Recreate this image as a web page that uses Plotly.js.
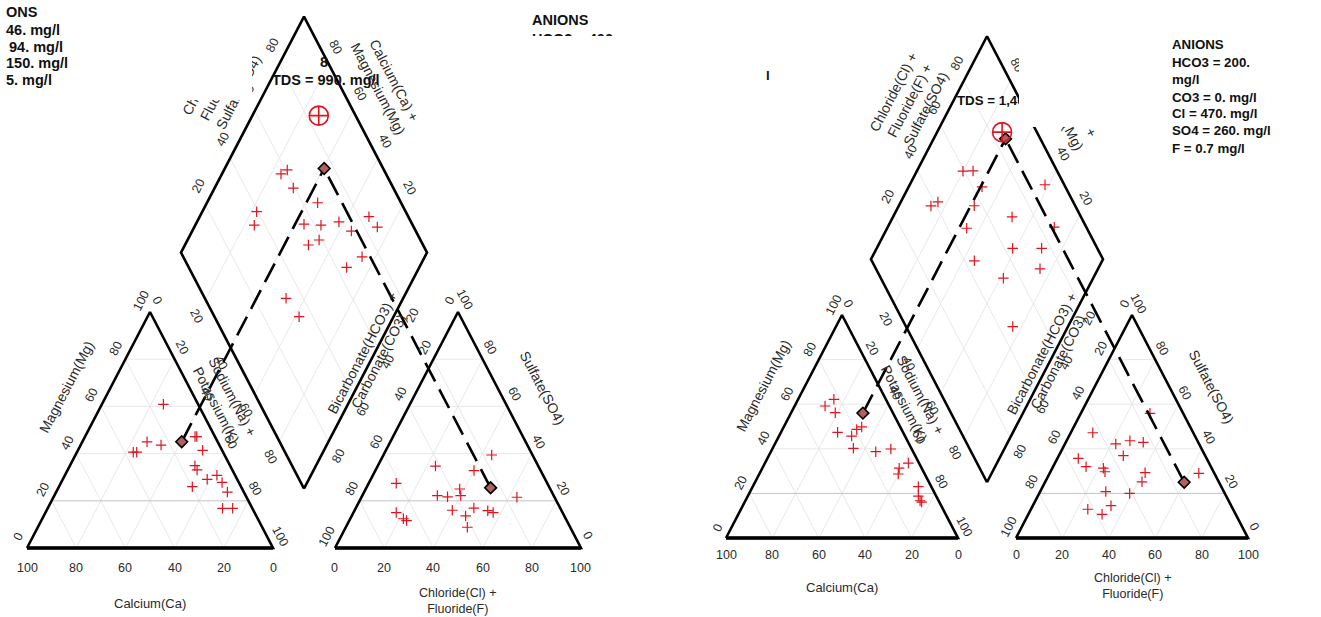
<!DOCTYPE html>
<html><head><meta charset="utf-8">
<script src="https://cdn.plot.ly/plotly-3.0.1.min.js"></script>
<style>html,body{margin:0;padding:0;background:#fff}#chart{width:1321px;height:617px}</style>
</head><body><div id="chart"></div>
<script>
// ================= DATA (percent of meq) =================
// Left diagram
const L_cat_Ca  = [14.1,28.7,23.7,36.5,35.1,8.1,7.4,7.9,14.3,14.3,12.2,7.4,6.8,19.8,6.7,12.1,8.0];
const L_cat_Mg  = [60.9,45.0,43.6,40.6,40.6,47.2,47.2,41.4,34.9,33.1,29.1,30.8,27.8,26.0,23.7,16.8,16.8];
const L_an_Cl   = [44.0,23.5,40.1,11.2,30.5,34.9,38.2,40.0,63.2,39.7,48.0,54.2,56.8,46.3,49.4,17.4,21.6,23.3];
const L_an_SO4  = [39.4,34.7,32.8,27.4,22.2,21.7,25.0,22.2,21.5,16.0,16.9,15.8,15.0,13.6,8.8,15.0,12.4,11.6];
const L_dia_ClSO4 = [57.3,60.7,59.3,39.4,35.6,66.1,56.0,62.7,70.7,73.8,84.0,85.2,53.4,58.8,72.7,64.2,33.0,34.4];
const L_dia_CaMg  = [76.0,74.3,68.0,77.9,76.0,55.0,56.0,48.9,42.3,35.3,31.2,25.6,49.8,46.5,25.5,29.5,47.6,38.4];
const L_mean_CaMg_NaK = [14.6,45.0];   // mean Ca, Mg
const L_mean_Cl_SO4   = [50.5,25.5];   // mean Cl+F, SO4
const L_tds_point     = [85,73];       // Cl+F+SO4, Ca+Mg
// Right diagram
const R_cat_Ca  = [22.4,27.7,24.8,16.6,19.3,23.0,28.2,25.0,16.1,9.0,4.6,9.7,11.4,5.6,7.7,8.0,7.6];
const R_cat_Mg  = [62.2,59.2,56.2,49.8,48.7,45.7,47.4,40.2,38.7,39.9,33.6,31.3,28.7,23.0,18.8,16.7,16.1];
const R_an_Cl   = [29.8,9.5,21.9,27.3,33.4,27.8,9.0,14.2,22.0,23.5,41.0,41.7,64.3,28.3,39.0,33.7,24.5,31.8];
const R_an_SO4  = [55.9,47.2,42.2,43.6,42.9,36.9,35.7,32.0,31.3,29.7,29.3,25.2,29.0,20.8,20.0,14.5,12.9,10.6];
const R_dia_ClSO4 = [59.4,63.8,64.1,91.7,37.8,41.7,48.2,86.2,63.5,76.0,44.2,70.7,52.8,46.0,56.5,70.3];
const R_dia_CaMg  = [80.1,75.8,68.4,41.7,86.1,84.0,65.7,28.2,41.4,28.9,55.1,25.0,38.7,23.8,67.5,48.7];
const R_mean_CaMg_NaK = [13.0,56.0];
const R_mean_Cl_SO4   = [60.0,25.0];
const R_tds_point     = [85,72];
// Tick labels
const triTicks = [0,20,40,60,80,100];
const diaTicks = [20,40,60,80];
const gridLevels = [20,40,60,80];
// Info texts
const L_info = ["ONS","46. mg/l","94. mg/l","150. mg/l","5. mg/l"];
const R_info = ["ANIONS","HCO3 = 200.","mg/l","CO3 = 0. mg/l","Cl = 470. mg/l","SO4 = 260. mg/l","F = 0.7 mg/l"];

// ================= GEOMETRY / STYLE =================
const W = 1321, HT = 617, H = Math.sqrt(3)/2;
const FONT = 'Arial, "Liberation Sans", sans-serif';
const RED = '#e0141e';
const panels = [
  {id:'', x0:27, base:548, side:246, hpx:236, g:0.252, dom:[0,0.5], k:1, botTick:20, botTitle:55, clTitle:53,
   d:{cCa:L_cat_Ca,cMg:L_cat_Mg,aCl:L_an_Cl,aSO:L_an_SO4,dA:L_dia_ClSO4,dC:L_dia_CaMg,mc:L_mean_CaMg_NaK,ma:L_mean_Cl_SO4,tds:L_tds_point}},
  {id:'2', x0:726, base:538, side:232, hpx:223, g:0.25, dom:[0.5,1], k:232/246, botTick:17, botTitle:49, clTitle:48,
   d:{cCa:R_cat_Ca,cMg:R_cat_Mg,aCl:R_an_Cl,aSO:R_an_SO4,dA:R_dia_ClSO4,dC:R_dia_CaMg,mc:R_mean_CaMg_NaK,ma:R_mean_Cl_SO4,tds:R_tds_point}}
];

const traces = [], annotations = [];
const layout = {width:W, height:HT, margin:{l:0,r:0,t:0,b:0}, paper_bgcolor:'#fff', plot_bgcolor:'#fff',
  showlegend:false, annotations:annotations};

panels.forEach(p => {
  const g = p.g, xa = 'x'+p.id, ya = 'y'+p.id, k = p.k;
  const sy = p.hpx / H;
  layout['xaxis'+p.id] = {domain:p.dom, range:[(p.dom[0]*W - p.x0)/p.side, (p.dom[1]*W - p.x0)/p.side],
    visible:false, fixedrange:true, anchor:ya};
  layout['yaxis'+p.id] = {domain:[0,1], range:[(p.base-HT)/sy, p.base/sy], visible:false, fixedrange:true, anchor:xa};

  const cat = (Ca,Mg) => { const N = 100-Ca-Mg; return [N/100 + Mg/200, H*Mg/100]; };
  const an  = (Cl,SO4) => [1+g+Cl/100+SO4/200, H*SO4/100];
  const dia = (a,c) => [1+g/2+(a-c)/200, H*(g+a/100+c/100)];

  const line = (pts, style) => {
    const x=[], y=[];
    pts.forEach(q => { if (q===null){x.push(null);y.push(null);} else {x.push(q[0]);y.push(q[1]);} });
    traces.push({type:'scatter', mode:'lines', x, y, xaxis:xa, yaxis:ya, hoverinfo:'skip', line:style});
  };

  // grid
  const grid = [], grid20 = [];
  gridLevels.forEach(t => {
    (t===20 ? grid20 : grid).push(cat(100-t,t), cat(0,t), null);
    grid.push(cat(t,0), cat(t,100-t), null);
    grid.push(cat(100-t,0), cat(0,100-t), null);
    (t===20 ? grid20 : grid).push(an(0,t), an(100-t,t), null);
    grid.push(an(t,0), an(t,100-t), null);
    grid.push(an(100-t,0), an(0,100-t), null);
    grid.push(dia(t,0), dia(t,100), null);
    grid.push(dia(0,t), dia(100,t), null);
  });
  line(grid, {color:'#e8e8e8', width:1});
  line(grid20, {color:'#c4c4c4', width:1});

  // outlines
  const ol = {color:'#000', width:2.6};
  line([cat(100,0), cat(0,0), cat(0,100), cat(100,0)], ol);
  line([an(0,0), an(100,0), an(0,100), an(0,0)], ol);
  line([dia(0,0), dia(100,0), dia(100,100), dia(0,100), dia(0,0)], ol);
  line([cat(100,0), cat(0,0), null, an(0,0), an(100,0)], {color:'#000', width:3.6});

  // sample points
  const cross = {symbol:'cross-thin', size:7.5, color:RED, line:{color:RED, width:1.2}};
  const pc = p.d.cCa.map((c,i)=>cat(c, p.d.cMg[i]));
  const pa = p.d.aCl.map((c,i)=>an(c, p.d.aSO[i]));
  const pd = p.d.dA.map((a,i)=>dia(a, p.d.dC[i]));
  [pc,pa,pd].forEach(set => traces.push({type:'scatter', mode:'markers', x:set.map(q=>q[0]), y:set.map(q=>q[1]),
    xaxis:xa, yaxis:ya, marker:cross, hoverinfo:'skip'}));

  // mean projection
  const mc = cat(p.d.mc[0], p.d.mc[1]);
  const ma = an(p.d.ma[0], p.d.ma[1]);
  const md = dia(p.d.ma[0]+p.d.ma[1], p.d.mc[0]+p.d.mc[1]);
  line([mc, md, null, ma, md], {color:'#000', width:2.6, dash:'21px,9px'});
  traces.push({type:'scatter', mode:'markers', x:[mc[0],ma[0],md[0]], y:[mc[1],ma[1],md[1]], xaxis:xa, yaxis:ya,
    hoverinfo:'skip', marker:{symbol:'diamond', size:9, color:'#b06060', line:{color:'#000', width:1.6}}});
  const tp = dia(p.d.tds[0], p.d.tds[1]);
  traces.push({type:'scatter', mode:'markers', x:[tp[0]], y:[tp[1]], xaxis:xa, yaxis:ya, hoverinfo:'skip',
    marker:{symbol:'circle-cross-open', size:19, color:RED, line:{color:RED, width:1.6}}});

  // annotations helper
  const A = (pt, text, dx, dy, ang, size) => annotations.push({
    xref:xa, yref:ya, x:pt[0], y:pt[1], text:text, showarrow:false, xshift:dx*k, yshift:-dy*k,
    textangle:ang||0, font:{family:FONT, size:size||12.5, color:'#2a2a2a'}});
  const AB = (pt, text, dy, size) => annotations.push({xref:xa, yref:ya, x:pt[0], y:pt[1], text:text, showarrow:false,
    yshift:-dy, font:{family:FONT, size:size||12.5, color:'#2a2a2a'}});
  const ANG = 62.5;

  triTicks.forEach(t => {
    AB(cat(t,0), String(t), p.botTick);                 // Calcium
    AB(an(t,0), String(t), p.botTick);                  // Chloride
    A(cat(100-t,t), String(t), -9, -11, -ANG);          // Magnesium
    A(cat(0,100-t), String(t), 7, -12, ANG);            // Sodium+Potassium
    A(an(0,100-t), String(t), -8, -12, -ANG);           // Bicarbonate
    A(an(100-t,t), String(t), 7, -12, ANG);             // Sulfate
  });
  diaTicks.forEach(t => {
    A(dia(t,100), String(t), -7, -19, -ANG);
    A(dia(100,t), String(t), 7, -17, ANG);
    A(dia(0,100-t), String(t), -9, 16, ANG);
    A(dia(100-t,0), String(t), 10, 15, -ANG);
  });
  // axis titles
  AB(cat(50,0), 'Calcium(Ca)', p.botTitle, 13);
  AB(an(50,0), 'Chloride(Cl) +<br>Fluoride(F)', p.clTitle, 12.5);
  A(cat(50,50), 'Magnesium(Mg)', -22, -43, -ANG, 14);
  A(cat(0,50), 'Sodium(Na) +<br>Potassium(K)', 13, -29, ANG, 14);
  A(an(0,50), 'Bicarbonate(HCO3) +<br>Carbonate(CO3)', -26, -73, -ANG, 14);
  A(an(50,50), 'Sulfate(SO4)', 23, -42, ANG, 14);
  A(dia(50,100), 'Chloride(Cl) +<br>Fluoride(F) +<br>Sulfate(SO4)', -20.5, -50.5, -ANG, 14);
  A(dia(100,50), 'Calcium(Ca) +<br>Magnesium(Mg)', 20.5, -50.5, ANG, 14);
});

// ---- info texts & covering boxes (paper pixels) ----
const P = (px,py,text,size) => annotations.push({xref:'paper', yref:'paper', x:px/W, y:1-py/HT,
  xanchor:'left', yanchor:'middle', text:'<b>'+text+'</b>', showarrow:false,
  font:{family:FONT, size:size, color:'#111'}});
const BOX = (x0,y0,x1,y1) => annotations.push({xref:'paper', yref:'paper', x:x0/W, y:1-y0/HT, xanchor:'left',
  yanchor:'top', text:' ', showarrow:false, width:x1-x0, height:y1-y0, bgcolor:'#fff', borderpad:0, borderwidth:0});

// left panel
P(530, 39, 'HCO3 = 400.', 14.5);
BOX(0,0,252,100);
BOX(515,36,700,110);
const Ly = [12,30,47,63,80];
L_info.forEach((s,i)=>P(i===2?7:4, Ly[i], s, 14.5));
P(530, 20, 'ANIONS', 14.5);
P(318, 62, '8', 14.5);
P(270, 80, 'TDS = 990. mg/l', 14.5);
// right panel
P(955, 100, 'TDS = 1,400. mg/l', 13.3);
BOX(1019,0,1166,127);
P(764, 75, 'l', 13.3);
const Ry = [45,62,79,97,114,131,149];
R_info.forEach((s,i)=>P(1170, Ry[i], s, 13.3));

Plotly.newPlot('chart', traces, layout, {displayModeBar:false, staticPlot:true});
</script></body></html>
